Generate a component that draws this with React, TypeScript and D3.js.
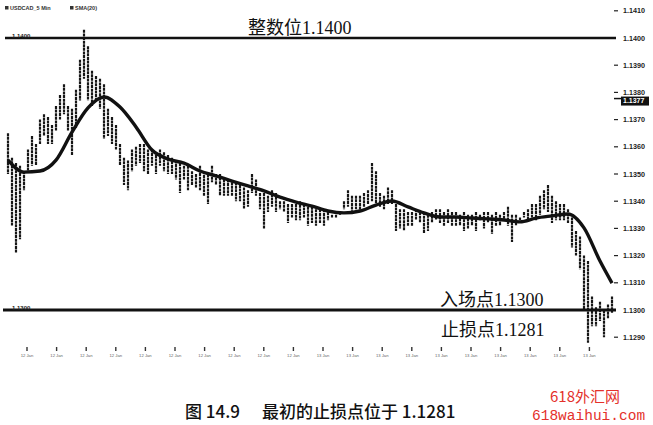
import * as d3 from "d3";
import React from "react";

// USDCAD 5 min bars (high / low)
const barHigh = [
  1.1365, 1.1356, 1.1354, 1.1353, 1.1351, 1.1359, 1.1364, 1.1361, 1.137, 1.1372,
  1.1371, 1.1368, 1.1375, 1.1379, 1.1383, 1.1375, 1.1374, 1.1381, 1.1392, 1.1403,
  1.1397, 1.1388, 1.1386, 1.1385, 1.1383, 1.1374, 1.1371, 1.1368, 1.1361, 1.1356,
  1.1355, 1.1359, 1.136, 1.1361, 1.1361, 1.1359, 1.1359, 1.1357, 1.1359, 1.1358,
  1.1357, 1.1356, 1.1355, 1.1354, 1.1353, 1.1353, 1.1351, 1.135, 1.1353, 1.1351,
  1.135, 1.1353, 1.135, 1.135, 1.1348, 1.1348, 1.1347, 1.1347, 1.1346, 1.1345,
  1.1344, 1.135, 1.1348, 1.1343, 1.1343, 1.1342, 1.1344, 1.1343, 1.134, 1.134,
  1.1339, 1.1339, 1.1339, 1.134, 1.1339, 1.1338, 1.1338, 1.1337, 1.1337, 1.1337,
  1.1336, 1.1335, 1.1335, 1.1336, 1.134, 1.1344, 1.1342, 1.1342, 1.1342, 1.1343,
  1.1344, 1.1354, 1.1351, 1.1343, 1.1342, 1.1345, 1.1344, 1.1339, 1.1337, 1.1337,
  1.1336, 1.1336, 1.1337, 1.1336, 1.1336, 1.1335, 1.1336, 1.1337, 1.1337, 1.1336,
  1.1337, 1.1336, 1.1336, 1.1335, 1.1336, 1.1335, 1.1335, 1.1336, 1.1335, 1.1336,
  1.1336, 1.1335, 1.1336, 1.1335, 1.1336, 1.1338, 1.1335, 1.1335, 1.1334, 1.1336,
  1.1337, 1.1339, 1.1339, 1.1342, 1.1344, 1.1346, 1.1342, 1.134, 1.1339, 1.1339,
  1.1337, 1.1334, 1.1329, 1.1327, 1.132, 1.1318, 1.1305, 1.1301, 1.1303, 1.13,
  1.1302, 1.1305,
];
const barLow = [
  1.135, 1.1331, 1.1321, 1.1326, 1.1344, 1.1351, 1.1353, 1.1353, 1.1361, 1.1364,
  1.1361, 1.1361, 1.1366, 1.137, 1.1372, 1.1366, 1.1357, 1.1367, 1.1377, 1.1385,
  1.1377, 1.1375, 1.1377, 1.1374, 1.1363, 1.1364, 1.1361, 1.1359, 1.1353, 1.1346,
  1.1344, 1.1351, 1.1353, 1.1354, 1.1351, 1.135, 1.1353, 1.135, 1.1353, 1.1351,
  1.135, 1.135, 1.1348, 1.1343, 1.1348, 1.1344, 1.1346, 1.1345, 1.1344, 1.1342,
  1.1339, 1.1347, 1.1346, 1.1342, 1.1342, 1.1342, 1.1342, 1.134, 1.134, 1.1337,
  1.1338, 1.1343, 1.1342, 1.1337, 1.133, 1.1336, 1.1338, 1.1336, 1.1337, 1.1336,
  1.1332, 1.1334, 1.1333, 1.1333, 1.1334, 1.1331, 1.1332, 1.1331, 1.1332, 1.1331,
  1.1333, 1.1334, 1.1334, 1.1335, 1.1337, 1.1338, 1.1336, 1.1337, 1.1336, 1.1338,
  1.1339, 1.134, 1.1339, 1.1338, 1.1337, 1.1339, 1.1339, 1.1329, 1.133, 1.1329,
  1.1331, 1.1331, 1.1333, 1.1332, 1.1328, 1.1329, 1.1332, 1.1333, 1.1332, 1.1331,
  1.1332, 1.1331, 1.1331, 1.1331, 1.1329, 1.133, 1.1331, 1.1329, 1.1333, 1.133,
  1.1332, 1.1328, 1.1331, 1.1331, 1.1333, 1.1331, 1.1325, 1.1331, 1.1333, 1.1334,
  1.1333, 1.1334, 1.1333, 1.1335, 1.1337, 1.1336, 1.1332, 1.1333, 1.1333, 1.1333,
  1.1332, 1.1323, 1.132, 1.1315, 1.13, 1.1288, 1.1294, 1.1294, 1.1296, 1.129,
  1.1297, 1.1299,
];

// SMA(20) sampled at these bar indices
const maIndex = [
  0, 4, 8, 12, 16, 20, 24, 28, 32, 36, 40, 44, 48, 52, 56, 60, 64, 68, 72, 76,
  80, 84, 88, 92, 96, 100, 104, 108, 112, 116, 120, 124, 128, 132, 136, 140, 144,
  148, 151,
];
const maValue = [
  1.13551, 1.13507, 1.13511, 1.13551, 1.13654, 1.13743, 1.13783, 1.13746, 1.13673,
  1.13588, 1.13555, 1.1354, 1.13511, 1.13493, 1.13474, 1.13456, 1.13438, 1.13415,
  1.13397, 1.13382, 1.13364, 1.13357, 1.13364, 1.13386, 1.13401, 1.13379, 1.13357,
  1.13342, 1.13342, 1.13338, 1.13335, 1.13331, 1.13324, 1.13338, 1.13346, 1.13353,
  1.13302, 1.1318, 1.13099,
];

const yTicks = [
  1.141, 1.14, 1.139, 1.138, 1.137, 1.136, 1.135, 1.134, 1.133, 1.132, 1.131, 1.13,
  1.129,
];
const xTickLabels = [
  "12 Jan", "12 Jan", "12 Jan", "12 Jan", "12 Jan", "12 Jan", "12 Jan",
  "12 Jan", "12 Jan", "12 Jan", "13 Jan", "13 Jan", "13 Jan", "13 Jan",
  "13 Jan", "13 Jan", "13 Jan", "13 Jan", "13 Jan", "13 Jan",
];
const xTickStart = 4.75; // bar index of first tick
const xTickStep = 7.4; // bars between ticks

const roundLevel = 1.14;
const entryLevel = 1.13;
const lastPrice = 1.1377;

const W = 653;
const H = 425;

const App = () => {
  const x = d3.scaleLinear().domain([0, barHigh.length - 1]).range([8, 612]);
  const y = d3.scaleLinear().domain([1.13, 1.14]).range([310, 38]);
  const fmt = d3.format(".4f");

  const maLine = d3
    .line<number>()
    .x((d, i) => x(maIndex[i]))
    .y((d) => y(d))
    .curve(d3.curveMonotoneX);

  const serif = "'Liberation Serif', 'Noto Sans CJK SC', serif";
  const red = "#e4312b";

  return (
    <svg
      width={W}
      height={H}
      style={{ position: "absolute", left: 0, top: 0, background: "#fff" }}
    >
      <rect width={W} height={H} fill="#fff" />

      {/* legend */}
      <g fontFamily="'Liberation Sans', Arial" fontSize={5.5} fontWeight="bold" fill="#333">
        <rect x={5} y={6} width={3.5} height={3.5} fill="#333" />
        <text x={10} y={10}>USDCAD_5 Min</text>
        <rect x={70} y={6} width={3.5} height={3.5} fill="#333" />
        <text x={75} y={10}>SMA(20)</text>
      </g>

      {/* price bars */}
      <g stroke="#161616" strokeWidth={2.2} strokeDasharray="3 0.6">
        {barHigh.map((h, i) => (
          <line key={i} x1={x(i)} x2={x(i)} y1={y(h)} y2={y(barLow[i])} />
        ))}
      </g>

      {/* moving average */}
      <path
        d={maLine(maValue) || ""}
        fill="none"
        stroke="#111"
        strokeWidth={3.4}
        strokeLinejoin="round"
      />

      {/* key levels */}
      <line x1={5} x2={616} y1={y(roundLevel)} y2={y(roundLevel)} stroke="#111" strokeWidth={2.4} />
      <line x1={3} x2={616} y1={y(entryLevel)} y2={y(entryLevel)} stroke="#111" strokeWidth={3} />
      <g fontFamily="'Liberation Sans', Arial" fontSize={6} fontWeight="bold" fill="#222">
        <text x={12} y={y(roundLevel) - 0.5}>{fmt(roundLevel)}</text>
        <text x={12} y={y(entryLevel) - 0.5}>{fmt(entryLevel)}</text>
      </g>

      {/* right axis */}
      <g fontFamily="'Liberation Sans', Arial" fontSize={7.2} fontWeight="bold" fill="#222">
        {yTicks.map((t) => (
          <g key={t}>
            {t !== roundLevel && t !== entryLevel && (
              <line x1={614} x2={618} y1={y(t)} y2={y(t)} stroke="#222" strokeWidth={1.2} />
            )}
            <text x={623} y={y(t) + 2.5}>{fmt(t)}</text>
          </g>
        ))}
        <line x1={614} x2={621} y1={y(lastPrice) - 2} y2={y(lastPrice) - 2} stroke="#111" strokeWidth={1.5} />
        <rect x={621} y={y(lastPrice) - 4} width={28} height={9} fill="#111" />
        <text x={623} y={y(lastPrice) + 2.8} fill="#fff" fontSize={7}>
          {fmt(lastPrice)}
        </text>
      </g>

      {/* bottom axis */}
      <g fontFamily="'Liberation Sans', Arial" fontSize={4.2} fill="#666">
        {xTickLabels.map((lab, k) => {
          const xx = x(xTickStart + k * xTickStep);
          return (
            <g key={k}>
              <line x1={xx} x2={xx} y1={347} y2={351} stroke="#333" strokeWidth={1.4} />
              <text x={xx} y={357} textAnchor="middle">{lab}</text>
            </g>
          );
        })}
      </g>

      {/* annotations */}
      <g fontFamily={serif} fontSize={18} fill="#111">
        <text x={248} y={34}>整数位1.1400</text>
        <text x={440} y={306}>入场点1.1300</text>
        <text x={441} y={336}>止损点1.1281</text>
      </g>

      {/* caption */}
      <g fontFamily="'Noto Sans CJK SC', sans-serif" fontSize={17} fontWeight={500} fill="#111">
        <text x={185} y={418}>图 14.9</text>
        <text x={262} y={418}>最初的止损点位于 1.1281</text>
      </g>

      {/* watermark */}
      <g fill={red}>
        <text x={550} y={402} fontFamily="'Noto Sans CJK SC', sans-serif" fontSize={15}>
          618外汇网
        </text>
        <text x={532} y={420} fontFamily="'Liberation Mono', monospace" fontSize={14.5}>
          618waihui.com
        </text>
      </g>
    </svg>
  );
};

export default App;
